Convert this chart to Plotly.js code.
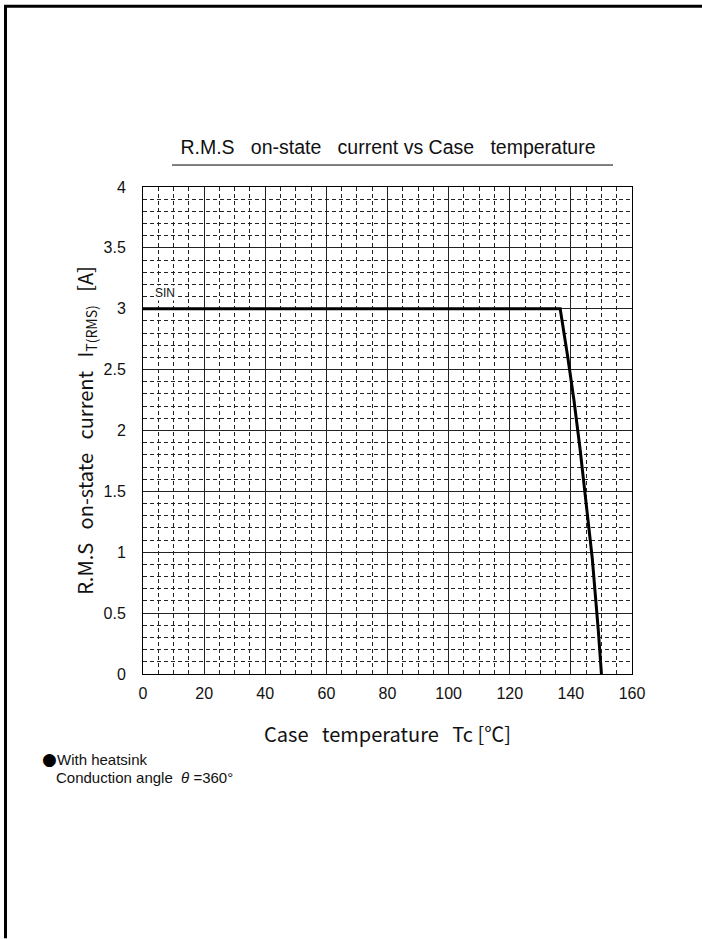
<!DOCTYPE html>
<html>
<head>
<meta charset="utf-8">
<script src="https://cdn.plot.ly/plotly-3.0.1.min.js"></script>
<style>
html,body{margin:0;padding:0;background:#fff;}
#chart{width:702px;height:939px;}
</style>
</head>
<body>
<div id="chart"></div>
<script>
// Data
const caseTemp = [0, 136.5, 139, 141, 143, 145, 147, 149, 150];
const rmsCurrent = [3, 3, 2.6, 2.25, 1.85, 1.4, 0.95, 0.35, 0];
const xTickVals = [0, 20, 40, 60, 80, 100, 120, 140, 160];
const yTickVals = [0, 0.5, 1, 1.5, 2, 2.5, 3, 3.5, 4];
const yTickText = ['0', '0.5', '1', '1.5', '2', '2.5', '3', '3.5', '4'];

const W = 702, H = 939;
const L = 143, R = 70, T = 187, B = 264.5;
const pw = W - L - R, ph = H - T - B;
const px = v => (v - L) / pw;
const py = v => (H - B - v) / ph;

const trace = {
  x: caseTemp, y: rmsCurrent, type: 'scatter', mode: 'lines',
  line: {color: '#000', width: 3}, hoverinfo: 'skip', showlegend: false
};

const tickFont = {family: 'Liberation Sans, Arial, sans-serif', size: 16, color: '#111'};

const layout = {
  width: W, height: H,
  margin: {l: L, r: R, t: T, b: B, pad: 0},
  paper_bgcolor: '#fff', plot_bgcolor: '#fff',
  showlegend: false,
  title: {
    text: 'R.M.S   on-state   current vs Case   temperature',
    font: {family: 'Liberation Sans, Arial, sans-serif', size: 19.5, color: '#111'},
    x: px(388), xref: 'paper', xanchor: 'center',
    y: 1 - 147 / H, yref: 'container', yanchor: 'middle'
  },
  xaxis: {
    range: [0, 160], tickvals: xTickVals, ticks: '', showline: true, mirror: true,
    linecolor: '#000', linewidth: 1, zeroline: false,
    showgrid: true, gridcolor: '#222', gridwidth: 1,
    minor: {dtick: 5, tick0: 0, showgrid: true, gridcolor: '#222', griddash: '4px,3px', gridwidth: 1, ticks: ''},
    tickfont: tickFont, ticklabelstandoff: 5,
    title: {text: 'Case   temperature   Tc [℃]', font: {family: 'Noto Sans CJK JP, sans-serif', size: 20, color: '#111'}, standoff: 26}
  },
  yaxis: {
    range: [0, 4], tickvals: yTickVals, ticktext: yTickText, ticks: '', showline: true, mirror: true,
    linecolor: '#000', linewidth: 1, zeroline: false,
    showgrid: true, gridcolor: '#222', gridwidth: 1,
    minor: {dtick: 0.1, tick0: 0, showgrid: true, gridcolor: '#222', griddash: '4px,3px', gridwidth: 1, ticks: ''},
    tickfont: tickFont, ticklabelstandoff: 13,
    title: {text: 'R.M.S   on-state   current   I<sub>T(RMS)</sub>   [A]', font: {family: 'Noto Sans CJK JP, sans-serif', size: 20, color: '#111'}, standoff: 4}
  },
  shapes: [
    // title underline
    {type: 'line', xref: 'paper', yref: 'paper', x0: px(172), x1: px(613), y0: py(165), y1: py(165), line: {color: '#000', width: 1}},
    // page frame (top and left)
    {type: 'line', xref: 'paper', yref: 'paper', x0: px(4), x1: px(702), y0: py(6), y1: py(6), line: {color: '#000', width: 3}},
    {type: 'line', xref: 'paper', yref: 'paper', x0: px(5.5), x1: px(5.5), y0: py(5), y1: py(939), line: {color: '#000', width: 3}}
  ],
  annotations: [
    {text: 'SIN', xref: 'paper', yref: 'paper', x: px(154), y: py(293), xanchor: 'left', yanchor: 'middle', showarrow: false,
     font: {family: 'Liberation Sans, Arial, sans-serif', size: 12, color: '#111'}, bgcolor: '#fff', borderpad: 0},
    {text: '●', xref: 'paper', yref: 'paper', x: px(40), y: py(760), xanchor: 'left', yanchor: 'middle', showarrow: false,
     font: {family: 'DejaVu Sans, sans-serif', size: 17, color: '#000'}},
    {text: 'With heatsink', xref: 'paper', yref: 'paper', x: px(55), y: py(760), xanchor: 'left', yanchor: 'middle', showarrow: false,
     font: {family: 'Liberation Sans, Arial, sans-serif', size: 15, color: '#111'}},
    {text: 'Conduction angle  <i>θ</i> =360°', xref: 'paper', yref: 'paper', x: px(54), y: py(778), xanchor: 'left', yanchor: 'middle', showarrow: false,
     font: {family: 'Liberation Sans, Arial, sans-serif', size: 15, color: '#111'}}
  ]
};

Plotly.newPlot('chart', [trace], layout, {staticPlot: true, displayModeBar: false});
</script>
</body>
</html>
